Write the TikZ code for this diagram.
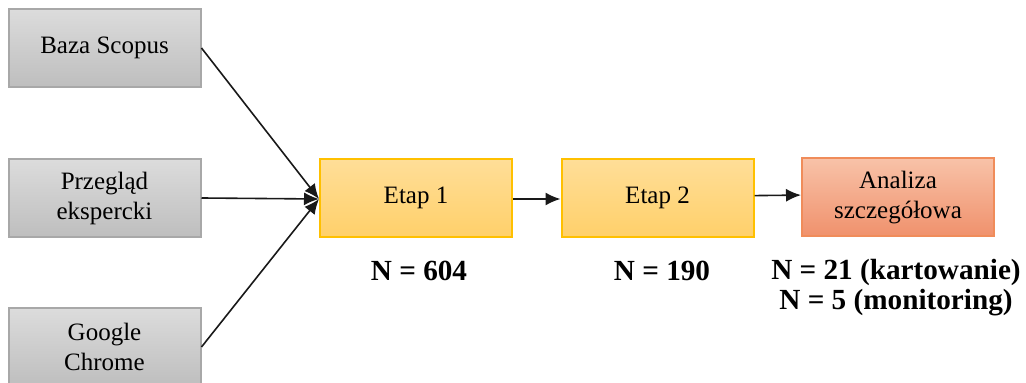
\documentclass[tikz,border=0pt]{standalone}
\usepackage{fontspec}
\setmainfont{Liberation Serif}
\usetikzlibrary{arrows.meta}
\definecolor{graytop}{HTML}{DCDCDC}
\definecolor{graybot}{HTML}{BEBEBE}
\definecolor{grayline}{HTML}{A8A8A8}
\definecolor{yeltop}{HTML}{FFDE98}
\definecolor{yelbot}{HTML}{FFD06A}
\definecolor{yelline}{HTML}{FFC000}
\definecolor{ortop}{HTML}{F8C2A8}
\definecolor{orbot}{HTML}{F0916C}
\definecolor{orline}{HTML}{F08C5A}
\tikzset{
  box/.style={draw, line width=1pt, minimum width=96pt, minimum height=39pt, inner sep=0pt,
    align=center, font=\fontsize{12.5}{15}\selectfont, text=black},
  graybox/.style={box, draw=grayline, top color=graytop, bottom color=graybot},
  yelbox/.style={box, draw=yelline, top color=yeltop, bottom color=yelbot},
  orbox/.style={box, draw=orline, top color=ortop, bottom color=orbot},
  conn/.style={line width=0.8pt, draw=black!90, -{Latex[length=7.5pt,width=6.5pt]}},
  lbl/.style={font=\fontsize{14.6}{15}\bfseries\selectfont, align=center, inner sep=0pt}
}
\begin{document}
\begin{tikzpicture}[x=0.5pt,y=-0.5pt]
\useasboundingbox (0,0) rectangle (1026,383);
\node[graybox] (scopus) at (104.5,48) {Baza Scopus};
\node[graybox] (ekspert) at (104.5,198) {Przegląd\\ekspercki};
\node[graybox] (google) at (104.5,347) {Google\\Chrome};
\node[yelbox] (etap1) at (416,198) {Etap 1};
\node[yelbox] (etap2) at (657.5,198) {Etap 2};
\node[orbox] (analiza) at (898,197.5) {Analiza\\szczegółowa};
\coordinate (in1) at ([yshift=-0.5pt]etap1.west);
\draw[conn] (scopus.east) -- (in1);
\draw[conn] (ekspert.east) -- (in1);
\draw[conn] (google.east) -- (in1);
\draw[conn] ([yshift=-0.5pt]etap1.east) -- ([yshift=-0.5pt]etap2.west);
\draw[conn] ([yshift=1.2pt]etap2.east) -- ([yshift=1.2pt]analiza.west);
\node[lbl] (n1) at (419,271) {N = 604};
\node[lbl] (n2) at (662,271) {N = 190};
\node[lbl] (n3) at (896,272) {N = 21 (kartowanie)};
\node[lbl] (n4) at (896,303) {N = 5 (monitoring)};
\end{tikzpicture}
\end{document}
